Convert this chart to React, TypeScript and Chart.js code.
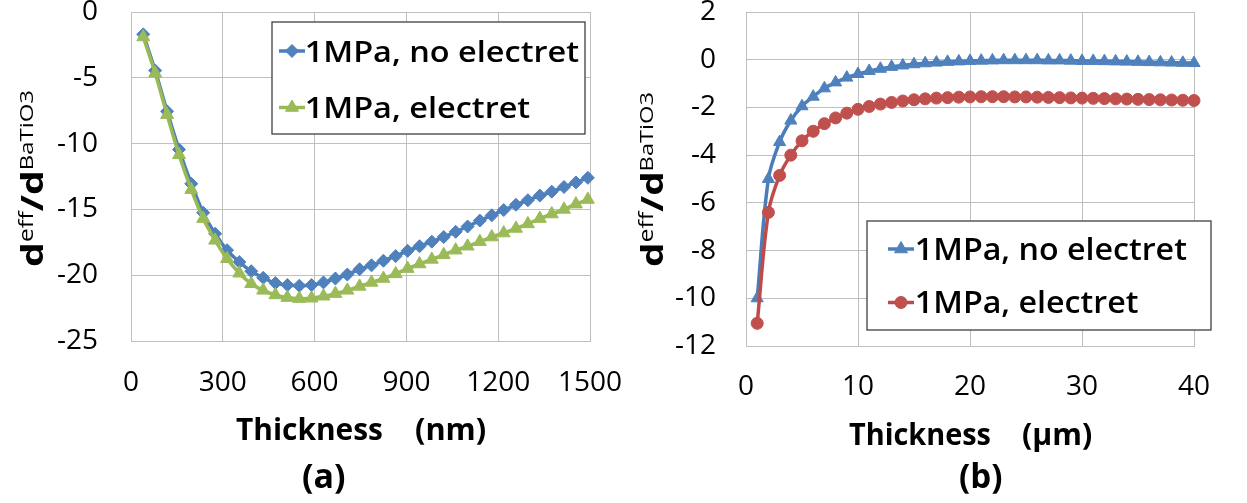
import React, { useEffect, useRef } from 'react';
import { Chart, registerables } from 'chart.js';

Chart.register(...registerables);

const FONT = "'Open Sans', 'Noto Sans', sans-serif";

// ---------- Panel (a): thickness in nm ----------
const thicknessNm = [
  40, 79, 118, 157, 197, 236, 275, 314, 354, 393, 432, 472, 511, 550, 590, 629, 668, 707, 747,
  786, 825, 865, 904, 943, 983, 1022, 1061, 1100, 1140, 1179, 1218, 1258, 1297, 1336, 1375,
  1415, 1454, 1493,
];
const noElectretNm = [
  -1.7, -4.45, -7.55, -10.45, -13.05, -15.25, -16.85, -18.1, -19.0, -19.7, -20.2, -20.6, -20.75,
  -20.8, -20.75, -20.55, -20.25, -19.95, -19.55, -19.25, -18.9, -18.55, -18.15, -17.8, -17.45,
  -17.1, -16.7, -16.3, -15.85, -15.45, -15.05, -14.65, -14.3, -13.95, -13.65, -13.3, -12.95, -12.6,
];
const electretNm = [
  -1.9, -4.65, -7.8, -10.85, -13.5, -15.7, -17.35, -18.75, -19.85, -20.65, -21.15, -21.5, -21.7,
  -21.78, -21.75, -21.6, -21.4, -21.15, -20.85, -20.55, -20.25, -19.9, -19.5, -19.15, -18.8,
  -18.45, -18.1, -17.8, -17.45, -17.1, -16.8, -16.45, -16.1, -15.7, -15.35, -15.0, -14.6, -14.25,
];

// ---------- Panel (b): thickness in µm ----------
const thicknessUm = [
  1, 2, 3, 4, 5, 6, 7, 8, 9, 10, 11, 12, 13, 14, 15, 16, 17, 18, 19, 20,
  21, 22, 23, 24, 25, 26, 27, 28, 29, 30, 31, 32, 33, 34, 35, 36, 37, 38, 39, 40,
];
const noElectretUm = [
  -10.0, -5.0, -3.45, -2.55, -1.95, -1.55, -1.2, -0.95, -0.75, -0.6, -0.47, -0.38, -0.3, -0.24,
  -0.19, -0.15, -0.12, -0.09, -0.07, -0.05, -0.04, -0.03, -0.02, -0.02, -0.02, -0.02, -0.03,
  -0.03, -0.04, -0.05, -0.05, -0.06, -0.07, -0.08, -0.09, -0.1, -0.11, -0.12, -0.13, -0.14,
];
const electretUm = [
  -11.05, -6.4, -4.85, -4.0, -3.4, -3.0, -2.68, -2.44, -2.24, -2.08, -1.96, -1.86, -1.79, -1.73,
  -1.68, -1.64, -1.61, -1.59, -1.57, -1.56, -1.55, -1.55, -1.55, -1.56, -1.56, -1.57, -1.58,
  -1.59, -1.6, -1.61, -1.62, -1.63, -1.64, -1.65, -1.66, -1.67, -1.68, -1.69, -1.7, -1.71,
];

// axis ranges / tick steps
const axisNmX = [0, 1500, 300];
const axisNmY = [-25, 0, 5];
const axisUmX = [0, 40, 10];
const axisUmY = [-12, 2, 2];

const seriesLabels = ['1MPa, no electret', '1MPa, electret'];
const xTitleNm = ['Thickness', '(nm)'];
const xTitleUm = ['Thickness', '(\u00b5m)'];

const BLUE_LINE = '#4A7EBB';
const BLUE_MARK = '#4F81BD';
const GREEN_LINE = '#98B954';
const GREEN_MARK = '#9BBB59';
const RED_LINE = '#BE4B48';
const RED_MARK = '#C0504D';
const GRID = '#bfbfbf';

type Marker = 'diamond' | 'triangle' | 'circle';

function drawMarker(ctx: CanvasRenderingContext2D, kind: Marker, x: number, y: number, r: number, color: string) {
  ctx.save();
  ctx.fillStyle = color;
  ctx.strokeStyle = color;
  ctx.lineWidth = 1;
  ctx.beginPath();
  if (kind === 'diamond') {
    ctx.moveTo(x, y - r);
    ctx.lineTo(x + r, y);
    ctx.lineTo(x, y + r);
    ctx.lineTo(x - r, y);
    ctx.closePath();
  } else if (kind === 'triangle') {
    ctx.moveTo(x, y - r);
    ctx.lineTo(x + 0.866 * r, y + 0.5 * r);
    ctx.lineTo(x - 0.866 * r, y + 0.5 * r);
    ctx.closePath();
  } else {
    ctx.arc(x, y, r, 0, Math.PI * 2);
  }
  ctx.fill();
  ctx.stroke();
  ctx.restore();
}

function inkScale(ctx: CanvasRenderingContext2D, text: string, font: string, width: number) {
  ctx.font = font;
  const m = ctx.measureText(text);
  return width / (m.actualBoundingBoxLeft + m.actualBoundingBoxRight);
}

function drawScaled(ctx: CanvasRenderingContext2D, text: string, font: string, inkLeft: number, baseline: number, s: number) {
  ctx.save();
  ctx.font = font;
  const m = ctx.measureText(text);
  ctx.translate(inkLeft, baseline);
  ctx.scale(s, 1);
  ctx.textAlign = 'left';
  ctx.textBaseline = 'alphabetic';
  ctx.fillStyle = '#000';
  ctx.fillText(text, m.actualBoundingBoxLeft, 0);
  ctx.restore();
}

function drawYTitle(ctx: CanvasRenderingContext2D, baseX: number, centerY: number, length: number) {
  const parts = [
    { t: 'd', f: `bold 31px ${FONT}`, r: 0 },
    { t: 'eff', f: `20px ${FONT}`, r: 10 },
    { t: '/', f: `bold 31px ${FONT}`, r: 0 },
    { t: 'd', f: `bold 31px ${FONT}`, r: 0 },
    { t: 'BaTiO3', f: `19px ${FONT}`, r: 10 },
  ];
  ctx.save();
  let total = 0;
  const widths = parts.map((p) => {
    ctx.font = p.f;
    const w = ctx.measureText(p.t).width;
    total += w;
    return w;
  });
  const s = length / total;
  ctx.translate(baseX, centerY);
  ctx.rotate(-Math.PI / 2);
  ctx.scale(s, 1);
  ctx.fillStyle = '#000';
  ctx.textAlign = 'left';
  ctx.textBaseline = 'alphabetic';
  let x = -total / 2;
  parts.forEach((p, i) => {
    ctx.font = p.f;
    ctx.fillText(p.t, x, -p.r);
    x += widths[i];
  });
  ctx.restore();
}

type Row = { label: string; line: string; mark: string; marker: Marker; r: number; lineY: number; baseline: number };
type Decor = {
  offX: number;
  offY: number;
  yTitle: [number, number, number];
  xTitle: { parts: [string, number, number][]; baseline: number };
  panel: { text: string; left: number; right: number; mid: number };
  legend: { box: [number, number, number, number]; lineX: [number, number]; textLeft: number; textRight: number; size: number; rows: Row[] };
};

function makeDecor(d: Decor) {
  return {
    id: 'decor',
    afterDraw(chart: any) {
      const ctx: CanvasRenderingContext2D = chart.ctx;
      const X = (v: number) => v - d.offX;
      const Y = (v: number) => v - d.offY;
      ctx.save();
      drawYTitle(ctx, X(d.yTitle[0]), Y(d.yTitle[1]), d.yTitle[2]);
      const tf = `bold 30px ${FONT}`;
      d.xTitle.parts.forEach(([t, l, r]) => {
        const s = inkScale(ctx, t, tf, r - l);
        drawScaled(ctx, t, tf, X(l), Y(d.xTitle.baseline), s);
      });
      const pf = `bold 34px ${FONT}`;
      ctx.font = pf;
      const pm = ctx.measureText(d.panel.text);
      const ps = inkScale(ctx, d.panel.text, pf, d.panel.right - d.panel.left);
      const pb = d.panel.mid + (pm.actualBoundingBoxAscent - pm.actualBoundingBoxDescent) / 2;
      drawScaled(ctx, d.panel.text, pf, X(d.panel.left), Y(pb), ps);
      const lg = d.legend;
      const [bx, by, bw, bh] = lg.box;
      ctx.fillStyle = '#fff';
      ctx.fillRect(X(bx), Y(by), bw, bh);
      ctx.strokeStyle = '#404040';
      ctx.lineWidth = 1.3;
      ctx.strokeRect(X(bx), Y(by), bw, bh);
      const lf = `600 ${lg.size}px ${FONT}`;
      const ls = inkScale(ctx, lg.rows[0].label, lf, lg.textRight - lg.textLeft);
      lg.rows.forEach((row) => {
        ctx.strokeStyle = row.line;
        ctx.lineWidth = 3.5;
        ctx.beginPath();
        ctx.moveTo(X(lg.lineX[0]), Y(row.lineY));
        ctx.lineTo(X(lg.lineX[1]), Y(row.lineY));
        ctx.stroke();
        drawMarker(ctx, row.marker, X((lg.lineX[0] + lg.lineX[1]) / 2), Y(row.lineY), row.r, row.mark);
        drawScaled(ctx, row.label, lf, X(lg.textLeft), Y(row.baseline), ls);
      });
      ctx.restore();
    },
  };
}

function makeScale(range: number[], opts: { padding: number; fit: (s: any) => void }) {
  return {
    type: 'linear' as const,
    min: range[0],
    max: range[1],
    ticks: {
      stepSize: range[2],
      padding: opts.padding,
      color: '#000',
      font: { family: FONT, size: 28 },
      maxRotation: 0,
      autoSkip: false,
      callback: (v: any) => String(v),
    },
    grid: { color: GRID, lineWidth: 1, drawTicks: false },
    border: { color: GRID, width: 1 },
    afterFit: opts.fit,
  };
}

function dataset(xs: number[], ys: number[], label: string, line: string, mark: string, style: string, r: number, order: number) {
  return {
    label,
    data: xs.map((x, i) => ({ x, y: ys[i] })),
    showLine: true,
    borderColor: line,
    backgroundColor: mark,
    borderWidth: 3.5,
    pointStyle: style,
    pointRadius: r,
    pointBackgroundColor: mark,
    pointBorderColor: mark,
    pointBorderWidth: 1,
    tension: 0.35,
    clip: false as any,
    order,
  };
}

export default function App() {
  const refA = useRef<HTMLCanvasElement>(null);
  const refB = useRef<HTMLCanvasElement>(null);

  useEffect(() => {
    const decorA = makeDecor({
      offX: 0,
      offY: -40,
      yTitle: [43, 178.5, 177],
      xTitle: { parts: [[xTitleNm[0], 236, 382], [xTitleNm[1], 416, 485]], baseline: 440 },
      panel: { text: '(a)', left: 303, right: 345, mid: 479 },
      legend: {
        box: [272, 22, 313, 112],
        lineX: [279, 305],
        textLeft: 307,
        textRight: 579,
        size: 28,
        rows: [
          { label: seriesLabels[0], line: BLUE_LINE, mark: BLUE_MARK, marker: 'diamond', r: 6.5, lineY: 51, baseline: 61.7 },
          { label: seriesLabels[1], line: GREEN_LINE, mark: GREEN_MARK, marker: 'triangle', r: 7.5, lineY: 107.5, baseline: 118.3 },
        ],
      },
    });
    const chartA = new Chart(refA.current as HTMLCanvasElement, {
      type: 'scatter',
      data: {
        datasets: [
          dataset(thicknessNm, noElectretNm, seriesLabels[0], BLUE_LINE, BLUE_MARK, 'rectRot', 6.5, 2),
          dataset(thicknessNm, electretNm, seriesLabels[1], GREEN_LINE, GREEN_MARK, 'triangle', 7.5, 1),
        ] as any,
      },
      options: {
        responsive: false,
        animation: false,
        devicePixelRatio: 1,
        events: [],
        layout: { padding: { left: 0, top: 52, right: 90, bottom: 0 } },
        plugins: { legend: { display: false }, tooltip: { enabled: false } },
        scales: {
          x: makeScale(axisNmX, { padding: 25, fit: (s: any) => { s.height = 162; } }),
          y: makeScale(axisNmY, { padding: 33, fit: (s: any) => { s.width = 131; } }),
        } as any,
      },
      plugins: [decorA as any],
    });

    const decorB = makeDecor({
      offX: 599,
      offY: -40,
      yTitle: [663, 179.5, 175],
      xTitle: { parts: [[xTitleUm[0], 849, 990], [xTitleUm[1], 1023, 1091]], baseline: 445 },
      panel: { text: '(b)', left: 960, right: 1002, mid: 477.5 },
      legend: {
        box: [867, 221, 344, 109],
        lineX: [888, 914],
        textLeft: 917,
        textRight: 1187,
        size: 30,
        rows: [
          { label: seriesLabels[0], line: BLUE_LINE, mark: BLUE_MARK, marker: 'triangle', r: 7.5, lineY: 249, baseline: 260 },
          { label: seriesLabels[1], line: RED_LINE, mark: RED_MARK, marker: 'circle', r: 6, lineY: 302.5, baseline: 313 },
        ],
      },
    });
    const chartB = new Chart(refB.current as HTMLCanvasElement, {
      type: 'scatter',
      data: {
        datasets: [
          dataset(thicknessUm, noElectretUm, seriesLabels[0], BLUE_LINE, BLUE_MARK, 'triangle', 7, 2),
          dataset(thicknessUm, electretUm, seriesLabels[1], RED_LINE, RED_MARK, 'circle', 6, 1),
        ] as any,
      },
      options: {
        responsive: false,
        animation: false,
        devicePixelRatio: 1,
        events: [],
        layout: { padding: { left: 0, top: 52, right: 53, bottom: 0 } },
        plugins: { legend: { display: false }, tooltip: { enabled: false } },
        scales: {
          x: makeScale(axisUmX, { padding: 24, fit: (s: any) => { s.height = 157; } }),
          y: makeScale(axisUmY, { padding: 30, fit: (s: any) => { s.width = 147; } }),
        } as any,
      },
      plugins: [decorB as any],
    });

    return () => {
      chartA.destroy();
      chartB.destroy();
    };
  }, []);

  return (
    <div style={{ position: 'absolute', left: 0, top: 0, width: 1247, height: 503, overflow: 'hidden', background: '#fff' }}>
      <canvas ref={refA} width={680} height={543} style={{ position: 'absolute', left: 0, top: -40, width: 680, height: 543 }} />
      <canvas ref={refB} width={648} height={543} style={{ position: 'absolute', left: 599, top: -40, width: 648, height: 543 }} />
    </div>
  );
}
